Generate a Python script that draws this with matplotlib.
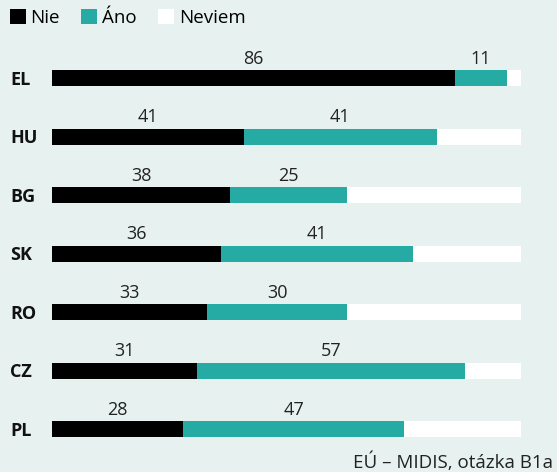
import matplotlib
matplotlib.use("Agg")
import matplotlib.pyplot as plt
from matplotlib.patches import Patch

countries = ["EL", "HU", "BG", "SK", "RO", "CZ", "PL"]
nie = [86, 41, 38, 36, 33, 31, 28]
ano = [11, 41, 25, 41, 30, 57, 47]
neviem = [100 - a - b for a, b in zip(nie, ano)]
legend_labels = ["Nie", "Áno", "Neviem"]
source = "EÚ – MIDIS, otázka B1a"

BG = "#e7f1ef"
TEAL = "#26aba4"
plt.rcParams["font.family"] = ["Open Sans", "DejaVu Sans"]

W, H = 557, 472
fig = plt.figure(figsize=(W / 100, H / 100), dpi=100, facecolor=BG)
ax = fig.add_axes([52 / W, 0, 469 / W, 1])
ax.set_facecolor("none")
for s in ax.spines.values():
    s.set_visible(False)
ax.set_xticks([])
ax.set_yticks([])
ax.set_xlim(0, 100)
step = 58.5
ax.set_ylim((H - 78) / step, -78 / step)

ypos = list(range(len(countries)))
h = 16 / step
ax.barh(ypos, nie, height=h, color="black")
ax.barh(ypos, ano, left=nie, height=h, color=TEAL)
lefts = [a + b for a, b in zip(nie, ano)]
ax.barh(ypos, neviem, left=lefts, height=h, color="white")

for i, c in enumerate(countries):
    ax.text(-42 / 469 * 100, i + 0.03, c, ha="left", va="center", fontsize=13,
            fontweight="bold", color="#111111")
    ax.annotate(str(nie[i]), (nie[i] / 2, i - h / 2), xytext=(0, 1.5),
                textcoords="offset points", ha="center", va="bottom",
                fontsize=13, color="#222222")
    ax.annotate(str(ano[i]), (nie[i] + ano[i] / 2, i - h / 2), xytext=(0, 1.5),
                textcoords="offset points", ha="center", va="bottom",
                fontsize=13, color="#222222")

handles = [Patch(facecolor="black"), Patch(facecolor=TEAL), Patch(facecolor="white")]
fig.legend(handles, legend_labels, loc="upper left", bbox_to_anchor=(4 / W, 1 - 3 / H),
           ncol=3, frameon=False, fontsize=13.5, handlelength=0.85, handleheight=0.85,
           handletextpad=0.25, columnspacing=1.15, borderaxespad=0, borderpad=0.3)

fig.text(553 / W, 1 - 462 / H, source, ha="right", va="center", fontsize=13.5,
         color="#222222")

fig.savefig("out.png", dpi=100, facecolor=BG)
